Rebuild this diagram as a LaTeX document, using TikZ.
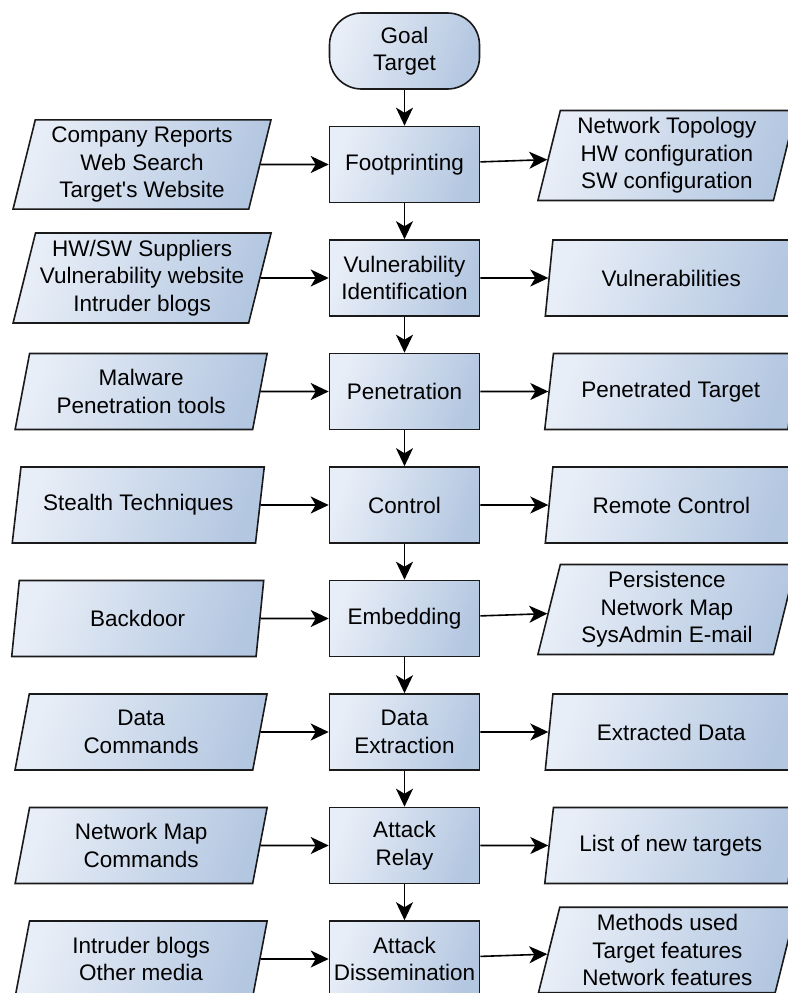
\documentclass[tikz,border=0pt]{standalone}
\usepackage{fontspec}
\setmainfont{Liberation Sans}
\usetikzlibrary{shapes,arrows.meta,positioning}
\definecolor{fillLight}{HTML}{E8EEF7}
\definecolor{fillDark}{HTML}{B4C7E1}
\definecolor{lineDark}{HTML}{1A1A1A}
\tikzset{%
  >={Stealth[width=17pt,length=18pt,inset=5pt]},
  % Specifications for style of nodes:
        blueshade/.style = {left color=fillLight, right color=fillDark, shading angle=70},
             base/.style = {rectangle, draw=lineDark, line width=1.6pt, blueshade,
                            minimum width=150pt, minimum height=76pt, inner sep=4pt,
                            text centered},
         terminal/.style = {base, rounded corners=32pt},
               io/.style = {trapezium, trapezium left angle=76, trapezium right angle=104,
                            trapezium stretches body, draw=lineDark, line width=1.6pt,
                            blueshade, minimum width=258pt, minimum height=76pt,
                            inner ysep=7pt, text centered},
          io short/.style = {io, minimum width=252pt}
                           }

\begin{document}
\begin{tikzpicture}[node distance=113.5pt, line width=1.6pt,
                every node/.style={font=\fontsize{22.5}{27.5}\selectfont}, align=center]
                    \useasboundingbox (0,0) rectangle (787pt,-993pt);
                    % main column
                    \node (goal)    [terminal] at (404.5pt,-51pt) {Goal\\Target};
                    \node (foot)    [base, below of=goal]    {Footprinting};
                    \node (vuln)    [base, below of=foot]    {Vulnerability\\Identification};
                    \node (pene)    [base, below of=vuln]    {Penetration};
                    \node (ctrl)    [base, below of=pene]    {Control};
                    \node (embed)   [base, below of=ctrl]    {Embedding};
                    \node (extract) [base, below of=embed]   {Data\\Extraction};
                    \node (relay)   [base, below of=extract] {Attack\\Relay};
                    \node (dissem)  [base, below of=relay]   {Attack\\Dissemination};

                    % inputs
                    \node (reports)   [io, left=68pt of foot]          {Company Reports\\Web Search\\Target\textquotesingle s Website};
                    \node (suppliers) [io, left=68pt of vuln]          {HW/SW Suppliers\\Vulnerability website\\Intruder blogs};
                    \node (malware)   [io short, left=68pt of pene]    {Malware\\Penetration tools};
                    \node (stealth)   [io short, left=68pt of ctrl]    {Stealth Techniques};
                    \node (backdoor)  [io short, left=68pt of embed]   {Backdoor};
                    \node (datacmd)   [io short, left=68pt of extract] {Data\\Commands};
                    \node (mapcmd)    [io short, left=68pt of relay]   {Network Map\\Commands};
                    \node (blogs)     [io short, left=68pt of dissem]  {Intruder blogs\\Other media};

                    % outputs
                    \node (topology)   [io, right=68pt of foot, yshift=9pt]   {Network Topology\\HW configuration\\SW configuration};
                    \node (vulns)      [io short, right=68pt of vuln]         {Vulnerabilities};
                    \node (penetrated) [io short, right=68pt of pene]         {Penetrated Target};
                    \node (remote)     [io short, right=68pt of ctrl]         {Remote Control};
                    \node (persist)    [io, right=68pt of embed, yshift=9pt]  {Persistence\\Network Map\\SysAdmin E-mail};
                    \node (extracted)  [io short, right=68pt of extract]      {Extracted Data};
                    \node (targets)    [io short, right=68pt of relay]        {List of new targets};
                    \node (methods)    [io, right=68pt of dissem, yshift=9pt] {Methods used\\Target features\\Network features};

                    \draw[->]  (goal)    -- (foot);
                    \draw[->]  (foot)    -- (vuln);
                    \draw[->]  (vuln)    -- (pene);
                    \draw[->]  (pene)    -- (ctrl);
                    \draw[->]  (ctrl)    -- (embed);
                    \draw[->]  (embed)   -- (extract);
                    \draw[->]  (extract) -- (relay);
                    \draw[->]  (relay)   -- (dissem);

                    \draw[->]  (reports)   -- (foot);
                    \draw[->]  (suppliers) -- (vuln);
                    \draw[->]  (malware)   -- (pene);
                    \draw[->]  (stealth)   -- (ctrl);
                    \draw[->]  (backdoor)  -- (embed);
                    \draw[->]  (datacmd)   -- (extract);
                    \draw[->]  (mapcmd)    -- (relay);
                    \draw[->]  (blogs)     -- (dissem);

                    \draw[->]  (foot)    -- (topology);
                    \draw[->]  (vuln)    -- (vulns);
                    \draw[->]  (pene)    -- (penetrated);
                    \draw[->]  (ctrl)    -- (remote);
                    \draw[->]  (embed)   -- (persist);
                    \draw[->]  (extract) -- (extracted);
                    \draw[->]  (relay)   -- (targets);
                    \draw[->]  (dissem)  -- (methods);
                \end{tikzpicture}
\end{document}
